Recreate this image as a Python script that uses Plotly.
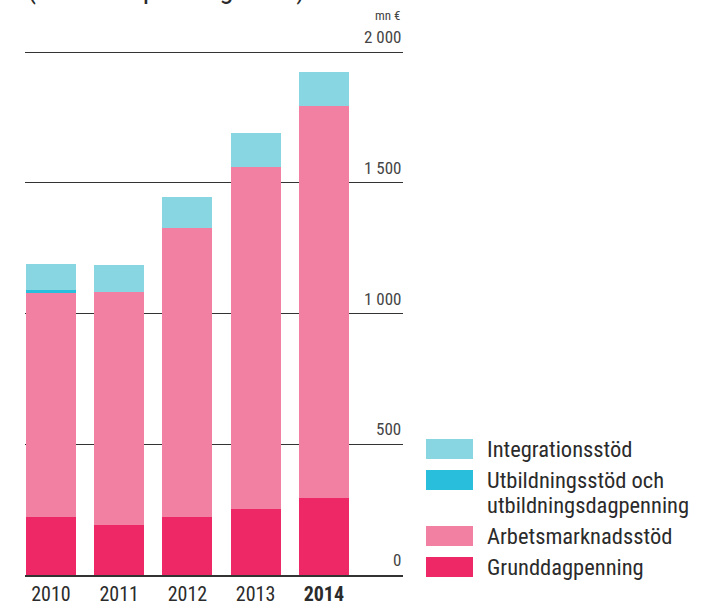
import plotly.graph_objects as go

# Data (mn €, 2014 års penningvärde)
years = ["2010", "2011", "2012", "2013", "2014"]
year_labels = ["2010", "2011", "2012", "2013", "<b>2014</b>"]
grunddagpenning = [222, 191, 222, 252, 294]
arbetsmarknadsstod = [857, 891, 1105, 1309, 1500]
utbildningsstod = [13, 0, 0, 0, 0]
integrationsstod = [98, 103, 120, 130, 129]

y_ticks = [0, 500, 1000, 1500, 2000]
y_tick_labels = ["0", "500", "1 000", "1 500", "2 000"]

series = [
    ("Grunddagpenning", grunddagpenning, "#EE2866"),
    ("Arbetsmarknadsstöd", arbetsmarknadsstod, "#F180A3"),
    ("Utbildningsstöd och utbildningsdagpenning", utbildningsstod, "#29BEDB"),
    ("Integrationsstöd", integrationsstod, "#89D6E3"),
]

FONT = "Liberation Sans Narrow, Roboto Condensed, Roboto, sans-serif"
TXT = "#2b2b2b"

W, H = 715, 606
L, R, T, B = 25, 312, 51, 31
plot_w = W - L - R
plot_h = H - T - B


def px(x):
    return (x - L) / plot_w


def py(y):
    return (H - B - y) / plot_h


fig = go.Figure()
for name, vals, col in series:
    fig.add_trace(go.Bar(x=years, y=vals, name=name, marker_color=col,
                         marker_line_width=0, width=0.73, showlegend=False))

fig.update_layout(
    width=W, height=H,
    margin=dict(l=L, r=R, t=T, b=B, autoexpand=False),
    barmode="stack",
    plot_bgcolor="white", paper_bgcolor="white",
    font=dict(family=FONT, color=TXT),
)
fig.update_xaxes(range=[-0.38, 5.16], tickvals=years, ticktext=year_labels,
                 tickfont=dict(size=20, color=TXT), showline=True,
                 linecolor="#333333", linewidth=2, ticks="", showgrid=False,
                 automargin=False)
fig.update_yaxes(range=[0, 2005], tickvals=y_ticks, showticklabels=False,
                 showgrid=True, gridcolor="#333333", gridwidth=1.3,
                 zeroline=False, automargin=False)

# y tick labels above gridlines, right aligned
for v, lab in zip(y_ticks, y_tick_labels):
    fig.add_annotation(x=1, y=v, xref="paper", yref="y", text=lab,
                       showarrow=False, xanchor="right", yanchor="bottom",
                       yshift=3, font=dict(size=17, color="#444444"))

fig.add_annotation(x=1, y=py(15), xref="paper", yref="paper", text="mn €",
                   showarrow=False, xanchor="right", yanchor="middle",
                   font=dict(size=13, color="#444444"))

# title, partially cut at the top as in the source
fig.add_annotation(x=px(25), y=py(7), xref="paper", yref="paper",
                   text="(2014 års penningvärde)", showarrow=False,
                   xanchor="left", yanchor="bottom",
                   font=dict(size=29, color=TXT))

# legend, drawn by hand for the large swatches
legend_items = [
    ("#89D6E3", 449, ["Integrationsstöd"]),
    ("#29BEDB", 480, ["Utbildningsstöd och", "utbildningsdagpenning"]),
    ("#F180A3", 536, ["Arbetsmarknadsstöd"]),
    ("#EE2866", 567, ["Grunddagpenning"]),
]
for col, yc, lines in legend_items:
    fig.add_shape(type="rect", xref="paper", yref="paper",
                  x0=px(426), x1=px(473), y0=py(yc + 10), y1=py(yc - 10),
                  fillcolor=col, line_width=0)
    for i, line in enumerate(lines):
        fig.add_annotation(x=px(485), y=py(yc + 25 * i), xref="paper", yref="paper",
                           text=line, showarrow=False, xanchor="left",
                           yanchor="middle", font=dict(size=22.5, color=TXT))

# page has a default body margin; drop it so the figure sits at the corner
fig.write_html("out.html", config={"displayModeBar": False},
               post_script="document.body.style.margin='0';")
